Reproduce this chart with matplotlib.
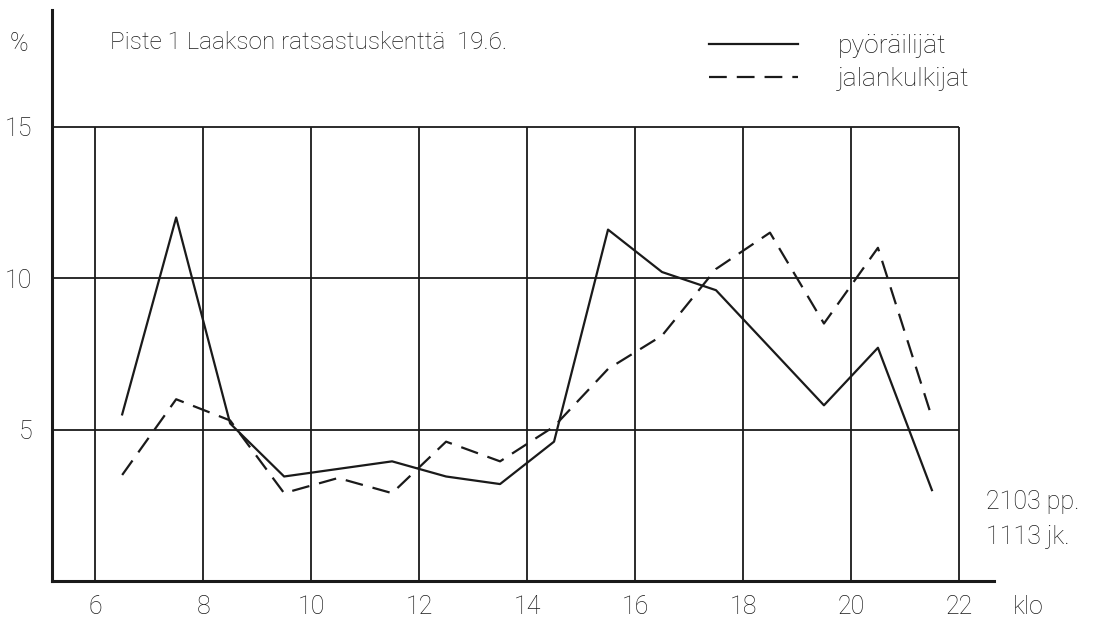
import matplotlib
matplotlib.use('Agg')
import matplotlib.pyplot as plt

hours = [6.5, 7.5, 8.5, 9.5, 10.5, 11.5, 12.5, 13.5, 14.5, 15.5, 16.5, 17.5, 18.5, 19.5, 20.5, 21.5]
cyclists = [5.5, 12.0, 5.2, 3.45, 3.7, 3.95, 3.45, 3.2, 4.6, 11.6, 10.2, 9.6, 7.7, 5.8, 7.7, 3.0]
pedestrians = [3.5, 6.0, 5.3, 2.9, 3.4, 2.9, 4.6, 3.95, 5.1, 7.0, 8.1, 10.3, 11.5, 8.5, 11.0, 5.4]
x_ticks = [6, 8, 10, 12, 14, 16, 18, 20, 22]
y_ticks = [5, 10, 15]
labels = ['pyöräilijät', 'jalankulkijat']

plt.rcParams['font.family'] = ['Roboto', 'DejaVu Sans']
plt.rcParams['font.weight'] = 'light'
fig = plt.figure(figsize=(11.04, 6.23), dpi=100)
W, H = 1104, 623
ax = fig.add_axes([52 / W, 1 - 581 / H, (994 - 52) / W, (581 - 10) / H])
ax.set_xlim(5.2, 22.65)
ax.set_ylim(0, 18.85)

ink = '#1a1a1a'
ax.vlines(x_ticks, 0, 15, color=ink, lw=1.3)
ax.hlines(y_ticks, 5.2, 22, color=ink, lw=1.3)

ax.plot(hours, cyclists, color=ink, lw=1.6, label=labels[0])
ax.plot(hours, pedestrians, color=ink, lw=1.6, dashes=(8, 4.5), label=labels[1])

for s in ['top', 'right']:
    ax.spines[s].set_visible(False)
for s in ['left', 'bottom']:
    ax.spines[s].set_linewidth(2.2)
    ax.spines[s].set_color(ink)

ax.set_xticks(x_ticks)
ax.set_yticks(y_ticks)
ax.tick_params(length=0, labelsize=18, colors=ink, pad=10)
ax.tick_params(axis='y', pad=14)

ax.text(-0.035, 0.94, '%', transform=ax.transAxes, fontsize=18, color=ink, ha='center', va='center')
ax.text(0.062, 0.943, 'Piste 1 Laakson ratsastuskenttä  19.6.', transform=ax.transAxes,
        fontsize=17.5, color=ink, ha='left', va='center')
ax.text(23.0, -0.85, 'klo', fontsize=18, color=ink, ha='left', va='center', clip_on=False)
ax.text(22.5, 2.6, '2103 pp.', fontsize=18, color=ink, ha='left', va='center', clip_on=False)
ax.text(22.5, 1.45, '1113 jk.', fontsize=18, color=ink, ha='left', va='center', clip_on=False)

ax.legend(loc='upper left', bbox_to_anchor=(0.672, 1.0), frameon=False, fontsize=19,
          handlelength=3.4, handletextpad=1.5, labelspacing=0.35, labelcolor=ink)

fig.savefig('out.png', dpi=100)
